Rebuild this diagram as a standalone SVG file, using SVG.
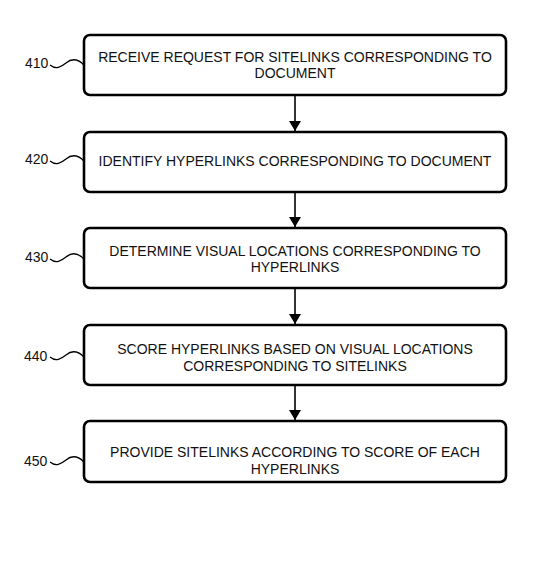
<svg xmlns="http://www.w3.org/2000/svg" width="557" height="562" viewBox="0 0 557 562">
<style>
.box{fill:#fff;stroke:#000;stroke-width:2.6}
.t{font-family:"Liberation Sans",Arial,sans-serif;font-size:14px;fill:#111;text-anchor:middle}
.lbl{font-family:"Liberation Sans",Arial,sans-serif;font-size:14px;fill:#111}
.sq{fill:none;stroke:#000;stroke-width:1.3}
.ln{stroke:#000;stroke-width:1.6;fill:none}
</style>
<defs>
<marker id="ah" viewBox="0 0 10 12" refX="10" refY="6" markerWidth="10" markerHeight="12" markerUnits="userSpaceOnUse" orient="auto">
<path d="M0,0 L10,6 L0,12 z" fill="#000"/>
</marker>
</defs>
<rect width="557" height="562" fill="#fff"/>
<g id="connectors">
<line class="ln" x1="295" y1="96" x2="295" y2="131" marker-end="url(#ah)"/>
<line class="ln" x1="295" y1="193" x2="295" y2="227" marker-end="url(#ah)"/>
<line class="ln" x1="295" y1="289" x2="295" y2="324" marker-end="url(#ah)"/>
<line class="ln" x1="295" y1="385" x2="295" y2="420" marker-end="url(#ah)"/>
</g>
<g id="n410">
<rect class="box" x="84" y="35" width="422" height="60" rx="6"/>
<text class="t" x="295" y="62">RECEIVE REQUEST FOR SITELINKS CORRESPONDING TO</text>
<text class="t" x="295" y="78">DOCUMENT</text>
<text class="lbl" x="25" y="68">410</text>
<path class="sq" d="M50,65 C56,70 61,67 66,63 C72,58 78,59 84,65"/>
</g>
<g id="n420">
<rect class="box" x="84" y="132" width="422" height="60" rx="6"/>
<text class="t" x="295" y="166">IDENTIFY HYPERLINKS CORRESPONDING TO DOCUMENT</text>
<text class="lbl" x="25" y="164">420</text>
<path class="sq" d="M50,161 C56,166 61,163 66,159 C72,154 78,155 84,161"/>
</g>
<g id="n430">
<rect class="box" x="84" y="228" width="422" height="60" rx="6"/>
<text class="t" x="295" y="256">DETERMINE VISUAL LOCATIONS CORRESPONDING TO</text>
<text class="t" x="295" y="272">HYPERLINKS</text>
<text class="lbl" x="25" y="262">430</text>
<path class="sq" d="M50,259 C56,264 61,261 66,257 C72,252 78,253 84,259"/>
</g>
<g id="n440">
<rect class="box" x="84" y="325" width="422" height="60" rx="6"/>
<text class="t" x="295" y="354">SCORE HYPERLINKS BASED ON VISUAL LOCATIONS</text>
<text class="t" x="295" y="371">CORRESPONDING TO SITELINKS</text>
<text class="lbl" x="24" y="361">440</text>
<path class="sq" d="M50,357 C56,362 61,359 66,355 C72,350 78,351 84,357"/>
</g>
<g id="n450">
<rect class="box" x="84" y="421" width="422" height="61" rx="6"/>
<text class="t" x="295" y="457">PROVIDE SITELINKS ACCORDING TO SCORE OF EACH</text>
<text class="t" x="295" y="474">HYPERLINKS</text>
<text class="lbl" x="24" y="466">450</text>
<path class="sq" d="M50,462 C56,467 61,464 66,460 C72,455 78,456 84,462"/>
</g>
</svg>
